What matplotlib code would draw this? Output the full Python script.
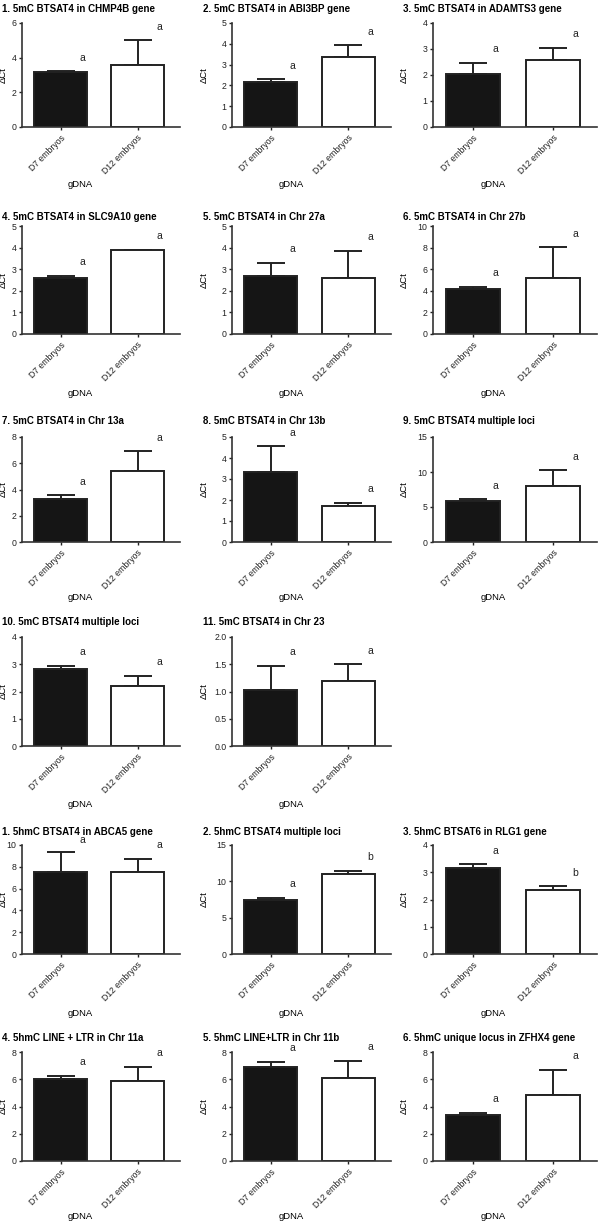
import numpy as np
import matplotlib
matplotlib.use("Agg")
import matplotlib.pyplot as plt

plt.rcParams['font.family'] = ['Liberation Sans', 'DejaVu Sans']

# ---- data ----
titles = ["1. 5mC BTSAT4 in CHMP4B gene", "2. 5mC BTSAT4 in ABI3BP gene",
          "3. 5mC BTSAT4 in ADAMTS3 gene", "4. 5mC BTSAT4 in SLC9A10 gene",
          "5. 5mC BTSAT4 in Chr 27a", "6. 5mC BTSAT4 in Chr 27b",
          "7. 5mC BTSAT4 in Chr 13a", "8. 5mC BTSAT4 in Chr 13b",
          "9. 5mC BTSAT4 multiple loci", "10. 5mC BTSAT4 multiple loci",
          "11. 5mC BTSAT4 in Chr 23",
          "1. 5hmC BTSAT4 in ABCA5 gene", "2. 5hmC BTSAT4 multiple loci",
          "3. 5hmC BTSAT6 in RLG1 gene", "4. 5hmC LINE + LTR in Chr 11a",
          "5. 5hmC LINE+LTR in Chr 11b", "6. 5hmC unique locus in ZFHX4 gene"]
groups = ["D7 embryos", "D12 embryos"]
d7_mean = [3.18, 2.16, 2.04, 2.57, 2.67, 4.15, 3.25, 3.32, 5.9, 2.84, 1.03,
           7.55, 7.45, 3.17, 6.03, 6.88, 3.35]
d7_err = [0.05, 0.13, 0.44, 0.12, 0.64, 0.19, 0.33, 1.23, 0.23, 0.1, 0.44,
          1.78, 0.28, 0.12, 0.24, 0.42, 0.19]
d12_mean = [3.58, 3.38, 2.58, 3.89, 2.58, 5.16, 5.4, 1.72, 7.95, 2.22, 1.19,
            7.5, 10.95, 2.36, 5.85, 6.12, 4.82]
d12_err = [1.42, 0.54, 0.47, 0.0, 1.26, 2.85, 1.5, 0.15, 2.35, 0.35, 0.31,
           1.2, 0.5, 0.12, 1.08, 1.22, 1.86]
ymax = [6, 5, 4, 5, 5, 10, 8, 5, 15, 4, 2.0, 10, 15, 4, 8, 8, 8]
ystep = [2, 1, 1, 1, 1, 2, 2, 1, 5, 1, 0.5, 2, 5, 1, 2, 2, 2]
letter_d7 = ["a"] * 17
letter_d12 = ["a"] * 12 + ["b", "b", "a", "a", "a"]

# ---- layout (pixels) ----
W, H = 600, 1221
row_top = [23, 226, 437, 637, 845, 1052]
row_bot = [127, 334, 542, 746, 954, 1161]
title_y = [9, 217, 421, 622, 832, 1038]
xlab_gap = [53, 55, 51, 54, 55, 51]
col_left = [22, 232, 433]
col_right = [180, 391, 597]
title_x = [2, 203, 403]

fig = plt.figure(figsize=(W / 100, H / 100), dpi=100)
x = np.arange(2)

for i in range(len(titles)):
    if i < 11:
        row, col = i // 3, i % 3
    else:
        row, col = 4 + (i - 11) // 3, (i - 11) % 3
    l, r = col_left[col], col_right[col]
    t, b = row_top[row], row_bot[row]
    ax = fig.add_axes([l / W, 1 - b / H, (r - l) / W, (b - t) / H])

    means = [d7_mean[i], d12_mean[i]]
    errs = [d7_err[i], d12_err[i]]
    ax.bar(x, means, width=0.68, color=["#151515", "white"],
           edgecolor="#222222", linewidth=1.4, zorder=2)
    ax.errorbar(x, means, yerr=[[0, 0], errs], fmt="none", ecolor="#222222",
                elinewidth=1.4, capsize=10, capthick=1.4, zorder=1)

    for k, let in enumerate([letter_d7[i], letter_d12[i]]):
        ly = min(means[k] + errs[k] + 0.08 * ymax[i], ymax[i])
        ax.text(x[k] + 0.28, ly, let, fontsize=7.5, color="#222222",
                ha="center", va="bottom", clip_on=False)

    ax.set_xlim(-0.5, 1.55)
    ax.set_ylim(0, ymax[i])
    ax.set_yticks(np.arange(0, ymax[i] + ystep[i] / 2, ystep[i]))
    if ymax[i] == 2.0:
        ax.set_yticklabels(["%.1f" % v for v in ax.get_yticks()])
    ax.set_xticks(x)
    ax.set_xticklabels(groups, rotation=45, ha="right",
                       rotation_mode="anchor", fontsize=6.2)
    ax.tick_params(axis="y", labelsize=6.3, length=2.5, width=1, pad=1.5,
                   colors="#222222")
    ax.tick_params(axis="x", length=2.5, width=1, pad=2, colors="#222222")
    for s in ["top", "right"]:
        ax.spines[s].set_visible(False)
    for s in ["left", "bottom"]:
        ax.spines[s].set_linewidth(1.2)
        ax.spines[s].set_color("#333333")
    ax.set_ylabel("\u0394Ct", fontsize=6.8)
    ax.yaxis.set_label_coords((title_x[col] + 6 - l) / (r - l), 0.5)
    ax.set_xlabel("gDNA", fontsize=6.8)
    ax.xaxis.set_label_coords(0.37, -xlab_gap[row] / (b - t))

    fig.text(title_x[col] / W, 1 - title_y[row] / H, titles[i],
             fontsize=7, fontweight="bold", ha="left", va="center")

fig.savefig("out.png", dpi=100)
